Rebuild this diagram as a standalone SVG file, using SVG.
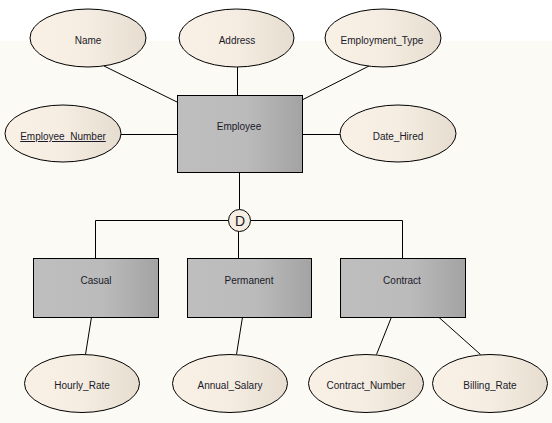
<svg xmlns="http://www.w3.org/2000/svg" width="552" height="423" viewBox="0 0 552 423">
<defs>
<linearGradient id="eg" x1="0" y1="0" x2="1" y2="0">
<stop offset="0" stop-color="#F9F1E6"/>
<stop offset="0.5" stop-color="#F5EDE1"/>
<stop offset="1" stop-color="#E6DDD0"/>
</linearGradient>
<linearGradient id="rg" x1="0" y1="0" x2="1" y2="0">
<stop offset="0" stop-color="#BEBEBE"/>
<stop offset="0.55" stop-color="#BBBBBB"/>
<stop offset="1" stop-color="#A3A3A3"/>
</linearGradient>
</defs>
<style>
.attr{fill:url(#eg);stroke:#000;stroke-width:1}
.ent{fill:url(#rg);stroke:#000;stroke-width:1}
.c{fill:none;stroke:#000;stroke-width:1}
text{font-family:"Liberation Sans",Arial,sans-serif;font-size:10px;fill:#1a1a2a;text-anchor:middle}
</style>
<rect x="0" y="0" width="552" height="423" fill="#FFFFFF"/>
<rect x="0" y="41" width="552" height="382" fill="#FCFAF5"/>
<g id="connectors">
<line class="c" x1="104" y1="66" x2="177" y2="102"/>
<line class="c" x1="237.5" y1="67" x2="237.5" y2="95"/>
<line class="c" x1="369" y1="66" x2="302" y2="100"/>
<line class="c" x1="121" y1="134.5" x2="177" y2="134.5"/>
<line class="c" x1="302" y1="134.5" x2="340" y2="134.5"/>
<line class="c" x1="239.5" y1="172" x2="239.5" y2="209.5"/>
<polyline class="c" points="228.5,220.5 95.5,220.5 95.5,258"/>
<polyline class="c" points="250.5,220.5 402.5,220.5 402.5,258"/>
<line class="c" x1="238.5" y1="231.5" x2="238.5" y2="258"/>
<line class="c" x1="91.5" y1="317" x2="85.5" y2="354.5"/>
<line class="c" x1="242.5" y1="317" x2="236.5" y2="354.5"/>
<line class="c" x1="391.5" y1="317" x2="376.5" y2="354.5"/>
<line class="c" x1="438.5" y1="317" x2="480.5" y2="354.5"/>
</g>
<g id="name"><ellipse class="attr" cx="88" cy="38" rx="58" ry="29"/><text x="88" y="44">Name</text></g>
<g id="address"><ellipse class="attr" cx="236.5" cy="38" rx="57.5" ry="29"/><text x="237" y="44">Address</text></g>
<g id="employment_type"><ellipse class="attr" cx="383" cy="38" rx="58" ry="29"/><text x="382" y="44">Employment_Type</text></g>
<g id="employee_number"><ellipse class="attr" cx="63" cy="133.5" rx="58" ry="28.5"/><text x="63" y="140" text-decoration="underline">Employee_Number</text></g>
<g id="date_hired"><ellipse class="attr" cx="398" cy="133.5" rx="58" ry="28.5"/><text x="398" y="140">Date_Hired</text></g>
<g id="employee"><rect class="ent" x="177.5" y="95.5" width="125" height="77"/><text x="239" y="130">Employee</text></g>
<g id="disjoint"><circle cx="239.5" cy="220.5" r="11" fill="#F6EEE2" stroke="#000"/><text x="240" y="226" style="font-size:14px">D</text></g>
<g id="casual"><rect class="ent" x="33.5" y="258.5" width="125" height="59"/><text x="96" y="284">Casual</text></g>
<g id="permanent"><rect class="ent" x="187.5" y="258.5" width="124" height="59"/><text x="249" y="284">Permanent</text></g>
<g id="contract"><rect class="ent" x="340.5" y="258.5" width="125" height="59"/><text x="402" y="284">Contract</text></g>
<g id="hourly_rate"><ellipse class="attr" cx="82" cy="383.5" rx="57.5" ry="29"/><text x="82" y="389">Hourly_Rate</text></g>
<g id="annual_salary"><ellipse class="attr" cx="230" cy="383.5" rx="57.5" ry="29"/><text x="230" y="389">Annual_Salary</text></g>
<g id="contract_number"><ellipse class="attr" cx="366" cy="383.5" rx="57.5" ry="29"/><text x="366" y="389">Contract_Number</text></g>
<g id="billing_rate"><ellipse class="attr" cx="490" cy="383.5" rx="57.5" ry="29"/><text x="490" y="389">Billing_Rate</text></g>
</svg>
